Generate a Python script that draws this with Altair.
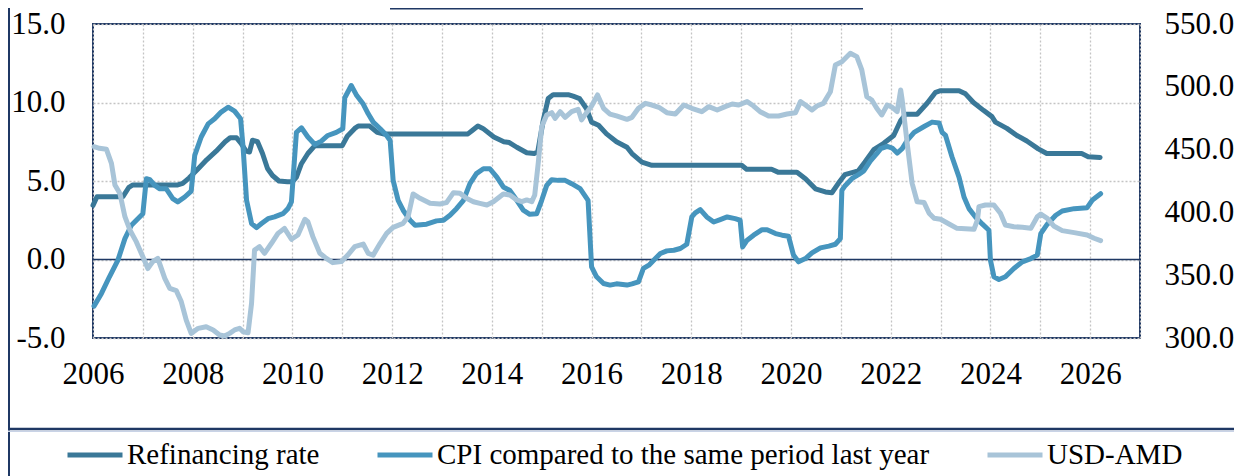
import altair as alt
import pandas as pd

# ---------------- data ----------------
ref_t = [2006.00, 2006.08, 2006.60, 2006.72, 2006.80, 2007.70, 2007.80, 2007.93, 2008.10, 2008.28,
         2008.47, 2008.65, 2008.75, 2008.88, 2008.97, 2009.07, 2009.14, 2009.20, 2009.30, 2009.40,
         2009.50, 2009.60, 2009.73, 2009.90, 2010.00, 2010.08, 2010.18, 2010.31, 2010.45, 2011.00,
         2011.10, 2011.25, 2011.32, 2011.55, 2011.70, 2011.82, 2013.52, 2013.60, 2013.72, 2013.82,
         2014.04, 2014.24, 2014.35, 2014.50, 2014.70, 2014.85, 2014.92, 2015.03, 2015.13, 2015.23,
         2015.53, 2015.63, 2015.76, 2015.90, 2016.00, 2016.14, 2016.30, 2016.50, 2016.71, 2016.81,
         2017.01, 2017.21, 2019.01, 2019.11, 2019.61, 2019.75, 2020.12, 2020.29, 2020.49, 2020.69,
         2020.82, 2020.95, 2021.08, 2021.35, 2021.48, 2021.66, 2021.86, 2022.06, 2022.20, 2022.30,
         2022.53, 2022.73, 2022.90, 2023.00, 2023.37, 2023.50, 2023.66, 2023.86, 2024.03, 2024.10,
         2024.33, 2024.53, 2024.73, 2024.96, 2025.13, 2025.83, 2025.96, 2026.20]
ref_v = [3.45, 4.0, 4.0, 4.6, 4.75, 4.75, 4.85, 5.2, 5.75, 6.35,
         6.9, 7.5, 7.75, 7.75, 7.4, 6.9, 6.85, 7.6, 7.5, 6.75,
         5.8, 5.35, 5.0, 4.95, 4.95, 5.25, 6.1, 6.75, 7.25, 7.25,
         7.85, 8.35, 8.5, 8.5, 8.1, 8.0, 8.0, 8.2, 8.5, 8.35,
         7.8, 7.5, 7.45, 7.15, 6.8, 6.75, 6.85, 8.85, 10.25, 10.5,
         10.5, 10.4, 10.25, 9.6, 8.75, 8.55, 8.0, 7.5, 7.15, 6.75,
         6.2, 6.0, 6.0, 5.75, 5.75, 5.55, 5.55, 5.15, 4.5, 4.3,
         4.25, 4.85, 5.4, 5.65, 6.2, 7.0, 7.4, 7.9, 8.85, 9.25,
         9.25, 9.95, 10.65, 10.75, 10.75, 10.55, 10.0, 9.5, 9.1, 8.75,
         8.35, 7.9, 7.55, 7.05, 6.75, 6.75, 6.55, 6.5]

cpi_t = [2006.02, 2006.17, 2006.33, 2006.50, 2006.64, 2006.77, 2006.90, 2007.00, 2007.07, 2007.14,
         2007.24, 2007.34, 2007.47, 2007.60, 2007.70, 2007.84, 2007.97, 2008.04, 2008.17, 2008.31,
         2008.44, 2008.57, 2008.71, 2008.84, 2008.96, 2009.01, 2009.08, 2009.18, 2009.28, 2009.38,
         2009.51, 2009.64, 2009.81, 2009.91, 2009.98, 2010.08, 2010.18, 2010.31, 2010.45, 2010.58,
         2010.71, 2010.88, 2011.01, 2011.05, 2011.18, 2011.22, 2011.29, 2011.42, 2011.52, 2011.62,
         2011.76, 2011.89, 2011.96, 2012.02, 2012.12, 2012.22, 2012.36, 2012.46, 2012.69, 2012.89,
         2013.03, 2013.16, 2013.29, 2013.43, 2013.56, 2013.69, 2013.83, 2013.96, 2014.10, 2014.23,
         2014.36, 2014.50, 2014.63, 2014.76, 2014.90, 2015.00, 2015.10, 2015.20, 2015.33, 2015.47,
         2015.60, 2015.77, 2015.93, 2016.00, 2016.10, 2016.24, 2016.37, 2016.50, 2016.71, 2016.81,
         2016.94, 2017.04, 2017.15, 2017.28, 2017.38, 2017.51, 2017.65, 2017.78, 2017.91, 2018.01,
         2018.08, 2018.18, 2018.31, 2018.45, 2018.58, 2018.72, 2018.88, 2018.98, 2019.03, 2019.12,
         2019.25, 2019.42, 2019.52, 2019.69, 2019.82, 2019.95, 2020.05, 2020.15, 2020.29, 2020.42,
         2020.59, 2020.76, 2020.89, 2020.99, 2021.02, 2021.09, 2021.22, 2021.36, 2021.46, 2021.59,
         2021.72, 2021.80, 2021.93, 2022.03, 2022.13, 2022.23, 2022.33, 2022.47, 2022.67, 2022.83,
         2022.97, 2023.03, 2023.10, 2023.23, 2023.37, 2023.47, 2023.57, 2023.70, 2023.84, 2023.97,
         2024.00, 2024.07, 2024.17, 2024.30, 2024.47, 2024.64, 2024.81, 2024.94, 2025.01, 2025.14,
         2025.31, 2025.44, 2025.68, 2025.94, 2026.04, 2026.21]
cpi_v = [-2.97, -2.16, -1.1, -0.04, 1.33, 2.18, 2.6, 2.92, 5.15, 5.08,
         4.72, 4.5, 4.5, 3.88, 3.67, 3.98, 4.36, 6.63, 7.8, 8.64,
         8.96, 9.39, 9.7, 9.45, 8.96, 7.16, 3.77, 2.29, 2.03, 2.29,
         2.6, 2.71, 2.92, 3.24, 3.67, 8.1, 8.39, 7.8, 7.33, 7.54,
         7.9, 8.1, 8.33, 10.3, 11.08, 10.85, 10.44, 9.9, 9.28, 8.75,
         8.33, 7.9, 7.58, 5.04, 3.77, 3.14, 2.5, 2.18, 2.25, 2.46,
         2.5, 2.82, 3.24, 3.77, 4.83, 5.47, 5.78, 5.78, 5.25, 4.62,
         4.4, 3.77, 3.14, 2.88, 2.92, 3.77, 4.72, 5.08, 5.04, 5.04,
         4.83, 4.51, 3.77, -0.47, -1.1, -1.53, -1.63, -1.55, -1.63, -1.55,
         -1.42, -0.57, -0.36, 0.06, 0.38, 0.55, 0.59, 0.7, 0.97, 2.71,
         2.97, 3.18, 2.71, 2.39, 2.54, 2.71, 2.6, 2.5, 0.8, 1.23,
         1.55, 1.9, 1.9, 1.65, 1.55, 1.48, 0.28, -0.15, 0.06, 0.42,
         0.74, 0.85, 0.97, 1.33, 4.4, 4.72, 5.15, 5.42, 5.64, 6.27,
         6.74, 7.06, 7.2, 7.1, 6.78, 7.06, 7.58, 8.1, 8.47, 8.75,
         8.69, 8.1, 7.9, 6.53, 5.25, 3.98, 3.24, 2.71, 2.25, 1.86,
         -0.04, -1.1, -1.27, -1.1, -0.57, -0.15, 0.06, 0.28, 1.65, 2.25,
         2.82, 3.09, 3.24, 3.3, 3.77, 4.19]

usd_t = [2006.02, 2006.13, 2006.27, 2006.37, 2006.44, 2006.54, 2006.64, 2006.74, 2006.87, 2007.00,
         2007.10, 2007.20, 2007.30, 2007.44, 2007.54, 2007.67, 2007.77, 2007.87, 2007.97, 2008.11,
         2008.27, 2008.41, 2008.54, 2008.64, 2008.74, 2008.84, 2008.94, 2009.01, 2009.11, 2009.18,
         2009.24, 2009.34, 2009.44, 2009.58, 2009.71, 2009.84, 2009.98, 2010.11, 2010.25, 2010.31,
         2010.41, 2010.55, 2010.68, 2010.81, 2010.98, 2011.11, 2011.25, 2011.42, 2011.52, 2011.62,
         2011.76, 2011.89, 2012.02, 2012.22, 2012.32, 2012.42, 2012.56, 2012.76, 2012.96, 2013.09,
         2013.23, 2013.36, 2013.49, 2013.63, 2013.76, 2013.90, 2014.03, 2014.23, 2014.36, 2014.50,
         2014.60, 2014.70, 2014.80, 2014.86, 2014.93, 2015.00, 2015.10, 2015.20, 2015.27, 2015.37,
         2015.47, 2015.60, 2015.73, 2015.80, 2015.90, 2016.00, 2016.12, 2016.24, 2016.37, 2016.50,
         2016.71, 2016.81, 2016.94, 2017.08, 2017.21, 2017.35, 2017.51, 2017.68, 2017.85, 2018.01,
         2018.21, 2018.35, 2018.52, 2018.68, 2018.82, 2018.95, 2019.12, 2019.25, 2019.38, 2019.55,
         2019.75, 2019.92, 2020.09, 2020.19, 2020.29, 2020.42, 2020.52, 2020.65, 2020.79, 2020.89,
         2021.02, 2021.19, 2021.32, 2021.42, 2021.52, 2021.62, 2021.72, 2021.82, 2021.93, 2022.03,
         2022.13, 2022.20, 2022.23, 2022.33, 2022.43, 2022.53, 2022.67, 2022.77, 2022.87, 2023.00,
         2023.17, 2023.33, 2023.67, 2023.74, 2023.77, 2023.90, 2024.07, 2024.20, 2024.30, 2024.47,
         2024.64, 2024.81, 2024.94, 2025.01, 2025.14, 2025.27, 2025.44, 2025.68, 2025.94, 2026.08,
         2026.21]
usd_v = [452.3, 451.0, 450.2, 439.0, 421.8, 415.0, 396.6, 386.0, 376.5, 364.6,
         355.3, 360.8, 363.4, 347.5, 339.5, 337.7, 329.0, 314.3, 303.7, 307.7,
         309.0, 306.4, 302.4, 301.6, 303.7, 306.4, 307.7, 305.0, 304.2, 327.6,
         370.0, 372.7, 367.4, 375.4, 383.3, 387.3, 378.6, 382.0, 394.5, 392.6,
         380.7, 367.4, 363.4, 360.0, 360.8, 366.0, 372.7, 374.8, 367.4, 366.0,
         375.4, 383.3, 388.1, 391.3, 396.6, 414.7, 411.2, 407.2, 406.7, 407.8,
         415.7, 415.2, 411.2, 408.5, 407.2, 405.9, 408.5, 414.7, 413.9, 409.9,
         408.5, 409.9, 408.5, 413.9, 439.1, 468.3, 477.6, 479.4, 474.9, 480.2,
         475.7, 480.2, 482.1, 473.6, 479.4, 484.7, 493.5, 482.9, 478.3, 476.8,
         474.1, 475.7, 482.9, 486.8, 485.5, 483.7, 479.4, 478.3, 485.5, 482.9,
         480.2, 484.2, 481.5, 484.2, 486.3, 485.5, 488.2, 484.7, 480.2, 476.8,
         476.8, 478.3, 479.4, 488.2, 485.5, 481.5, 484.7, 486.8, 496.1, 517.4,
         520.0, 526.7, 524.0, 513.4, 492.2, 489.5, 482.9, 477.6, 485.5, 483.7,
         480.2, 497.5, 489.5, 455.0, 423.1, 408.5, 407.8, 399.3, 395.3, 394.5,
         390.8, 387.3, 386.5, 394.0, 404.6, 405.9, 405.9, 399.3, 390.0, 388.6,
         388.1, 387.3, 396.6, 398.7, 395.3, 389.2, 385.5, 383.9, 382.0, 379.4,
         377.5]

series_names = ["Refinancing rate", "CPI compared to the same period last year", "USD-AMD"]
series_colors = ["#3A7898", "#4695BE", "#A8C4D8"]
left_ticks = [-5, 0, 5, 10, 15]
right_ticks = [300, 350, 400, 450, 500, 550]
year_ticks = list(range(2006, 2028))

# ---------------- tables ----------------
left_df = pd.DataFrame({
    "t": ref_t + cpi_t,
    "v": ref_v + cpi_v,
    "s": [series_names[0]] * len(ref_t) + [series_names[1]] * len(cpi_t),
})
usd_df = pd.DataFrame({"t": usd_t, "v": usd_v, "s": [series_names[2]] * len(usd_t)})
zero_df = pd.DataFrame({"v": [0]})

FONT = "Liberation Serif"
NAVY = "#1F3864"
GRID = "#C4C4C4"

x_enc = alt.X(
    "t:Q",
    scale=alt.Scale(domain=[2006, 2027], nice=False, zero=False),
    axis=alt.Axis(
        values=year_ticks, labelExpr="datum.value % 2 == 0 ? datum.value : ''",
        grid=True, gridDash=[2, 2], gridColor=GRID, gridWidth=1.3,
        domain=False, ticks=False, tickSize=0, labelPadding=21,
        labelOverlap=False, labelFlush=False, title=None,
    ),
)

left_scale = alt.Scale(domain=[-5, 15], nice=False, zero=False)
left_axis = alt.Axis(
    values=left_ticks,
    labelExpr="(datum.value < 0 ? '-' : '') + format(abs(datum.value), '.1f')",
    grid=True, gridDash=[2, 2], gridColor=GRID, gridWidth=1.3,
    domain=False, ticks=False, tickSize=0, labelPadding=28,
    labelOverlap=False, title=None,
)
right_axis = alt.Axis(
    values=right_ticks, format=".1f", orient="right", grid=False,
    domain=False, ticks=False, tickSize=0, labelPadding=24,
    labelOverlap=False, title=None,
)

color_enc = alt.Color(
    "s:N",
    scale=alt.Scale(domain=series_names, range=series_colors),
    legend=alt.Legend(
        title=None, orient="none", legendX=-28, legendY=401, direction="horizontal",
        symbolType="stroke", symbolSize=3025, symbolStrokeWidth=5,
        labelFont=FONT, labelFontSize=29, labelColor="black", labelLimit=0,
        labelOffset=2, columnPadding=47, padding=0,
    ),
)

line_kw = dict(strokeWidth=5, strokeCap="round", strokeJoin="round")

# ---------------- decorations (frame of the original figure) ----------------
blank = alt.Data(values=[{"a": 1}])
frame_left = alt.Chart(blank).mark_rule(color=NAVY, strokeWidth=2).encode(
    x=alt.value(-84), y=alt.value(-16), y2=alt.value(452))
frame_sep = alt.Chart(blank).mark_rule(color=NAVY, strokeWidth=2.5).encode(
    x=alt.value(-85), x2=alt.value(1141), y=alt.value(405))
frame_sep2 = alt.Chart(blank).mark_rule(color="#C9D3E6", strokeWidth=1.5).encode(
    x=alt.value(-85), x2=alt.value(1141), y=alt.value(407.3))
title_box = alt.Chart(blank).mark_rule(color=NAVY, strokeWidth=1.5).encode(
    x=alt.value(297), x2=alt.value(770), y=alt.value(-15.3))

zero_rule = alt.Chart(zero_df).mark_rule(color=NAVY, strokeWidth=1.6).encode(
    y=alt.Y("v:Q", scale=left_scale, axis=left_axis))

left_lines = alt.Chart(left_df).mark_line(**line_kw).encode(
    x=x_enc,
    y=alt.Y("v:Q", scale=left_scale, axis=left_axis),
    color=color_enc,
)

usd_line = alt.Chart(usd_df).mark_line(**line_kw).encode(
    x=x_enc,
    y=alt.Y("v:Q", scale=alt.Scale(domain=[300, 550], nice=False, zero=False), axis=right_axis),
    color=color_enc,
)

left_group = alt.layer(frame_left, frame_sep, frame_sep2, title_box, zero_rule, left_lines)

chart = (
    alt.layer(left_group, usd_line)
    .resolve_scale(y="independent")
    .properties(
        width=1047, height=314,
        padding={"left": 85, "top": 16, "right": 94, "bottom": 138},
        autosize=alt.AutoSizeParams(type="none"),
    )
    .configure_view(stroke=NAVY, strokeWidth=2)
    .configure_axis(labelFont=FONT, labelFontSize=31, labelColor="black")
)

chart.save("out.html", embed_options={"renderer": "svg", "actions": False})
